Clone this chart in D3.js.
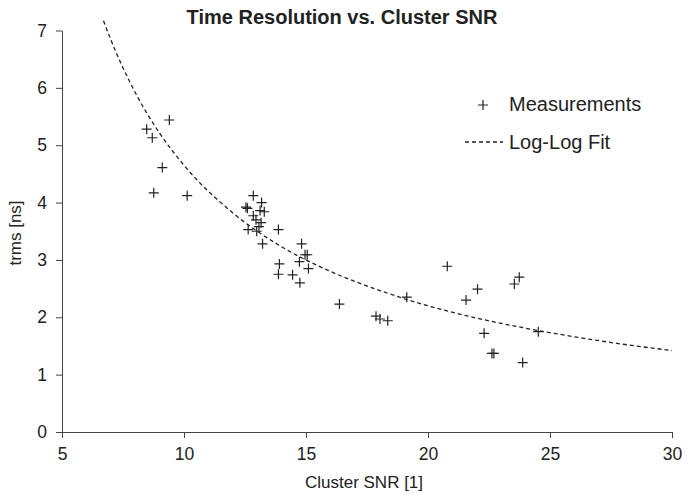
<!DOCTYPE html>
<html>
<head>
<meta charset="utf-8">
<script src="https://cdn.jsdelivr.net/npm/d3@7"></script>
<style>
	body { margin: 0; background: #fff; }
	text { font-family: "Liberation Sans", Arial, sans-serif; fill: #222; }
</style>
</head>
<body>
<div id="chart"></div>
<script>
// measured points (Cluster SNR, trms in ns)
var snr = [8.47, 8.70, 9.40, 9.11, 8.76, 10.13,
	12.84, 13.18, 12.54, 12.60, 13.29, 13.12, 12.84, 12.95, 13.16, 13.07, 12.63, 12.98, 13.87, 13.22,
	14.82, 14.96, 15.05, 14.73, 15.10, 14.45, 14.75, 13.91, 13.87,
	16.37, 17.87, 18.03, 18.35, 19.13, 20.79, 21.56, 22.03, 22.30, 22.62, 22.70, 23.54, 23.74, 24.52, 23.88];
var trms = [5.28, 5.13, 5.44, 4.61, 4.17, 4.12,
	4.12, 4.00, 3.92, 3.90, 3.84, 3.86, 3.77, 3.70, 3.65, 3.58, 3.53, 3.50, 3.53, 3.28,
	3.28, 3.09, 3.09, 2.97, 2.85, 2.74, 2.60, 2.93, 2.75,
	2.23, 2.02, 1.97, 1.94, 2.35, 2.89, 2.30, 2.49, 1.72, 1.37, 1.37, 2.58, 2.70, 1.75, 1.21];

// log-log fit curve
var fitX = [6.7, 7, 8, 9, 10, 12, 14, 16, 18, 20, 22, 24, 26, 28, 30];
var fitY = [7.17, 6.84, 5.92, 5.21, 4.65, 3.82, 3.23, 2.80, 2.47, 2.20, 1.985, 1.81, 1.66, 1.53, 1.42];

var xTicks = [5, 10, 15, 20, 25, 30];
var yTicks = [0, 1, 2, 3, 4, 5, 6, 7];

var width = 695, height = 493;
var margin = {left: 62, right: 23, top: 30.5, bottom: 61};

var svg = d3.select("#chart")
	.append("svg")
	.attr("width", width)
	.attr("height", height);

var x = d3.scaleLinear().domain([5, 30]).range([margin.left, width - margin.right]);
var y = d3.scaleLinear().domain([0, 7]).range([height - margin.bottom, margin.top]);

//axes
var xAxis = svg.append("g")
	.attr("transform", "translate(0," + y(0) + ")")
	.call(d3.axisBottom(x).tickValues(xTicks).tickFormat(d3.format("d"))
		.tickSize(6).tickPadding(10).tickSizeOuter(0));
var yAxis = svg.append("g")
	.attr("transform", "translate(" + x(5) + ",0)")
	.call(d3.axisLeft(y).tickValues(yTicks).tickFormat(d3.format("d"))
		.tickSize(6).tickPadding(9).tickSizeOuter(0));
[xAxis, yAxis].forEach(function(a){
	a.select(".domain").attr("stroke", "#444");
	a.selectAll(".tick line").attr("stroke", "#444");
	a.selectAll(".tick text")
		.attr("font-size", 17.5)
		.attr("font-family", "Liberation Sans, Arial, sans-serif")
		.attr("fill", "#222");
});

//fit curve
var line = d3.line()
	.x(function(d){ return x(d[0]); })
	.y(function(d){ return y(d[1]); })
	.curve(d3.curveMonotoneX);
svg.append("path")
	.datum(d3.zip(fitX, fitY))
	.attr("d", line)
	.attr("fill", "none")
	.attr("stroke", "#222")
	.attr("stroke-width", 1.3)
	.attr("stroke-dasharray", "4,3");

//crosses
var s = 5;
var pts = svg.selectAll("g.pt")
	.data(d3.zip(snr, trms))
	.enter()
	.append("g")
	.attr("class", "pt")
	.attr("transform", function(d){ return "translate(" + x(d[0]) + "," + y(d[1]) + ")"; });
pts.append("path")
	.attr("d", "M" + (-s) + ",0H" + s + "M0," + (-s) + "V" + s)
	.attr("stroke", "#222")
	.attr("stroke-width", 1.2);

//title and labels
svg.append("text")
	.attr("x", 342).attr("y", 24)
	.attr("text-anchor", "middle")
	.attr("font-size", 20)
	.attr("font-weight", "bold")
	.text("Time Resolution vs. Cluster SNR");
svg.append("text")
	.attr("x", 364).attr("y", 488)
	.attr("text-anchor", "middle")
	.attr("font-size", 17)
	.text("Cluster SNR [1]");
svg.append("text")
	.attr("transform", "translate(21,233) rotate(-90)")
	.attr("text-anchor", "middle")
	.attr("font-size", 17)
	.text("trms [ns]");

//legend
var lg = svg.append("g");
lg.append("path")
	.attr("d", "M478,105H488M483,100V110")
	.attr("stroke", "#222")
	.attr("stroke-width", 1.2);
lg.append("text")
	.attr("x", 509).attr("y", 111)
	.attr("font-size", 20)
	.text("Measurements");
lg.append("line")
	.attr("x1", 465).attr("x2", 503)
	.attr("y1", 142).attr("y2", 142)
	.attr("stroke", "#222")
	.attr("stroke-width", 1.3)
	.attr("stroke-dasharray", "4,3");
lg.append("text")
	.attr("x", 509).attr("y", 149)
	.attr("font-size", 20)
	.text("Log-Log Fit");
</script>
</body>
</html>
